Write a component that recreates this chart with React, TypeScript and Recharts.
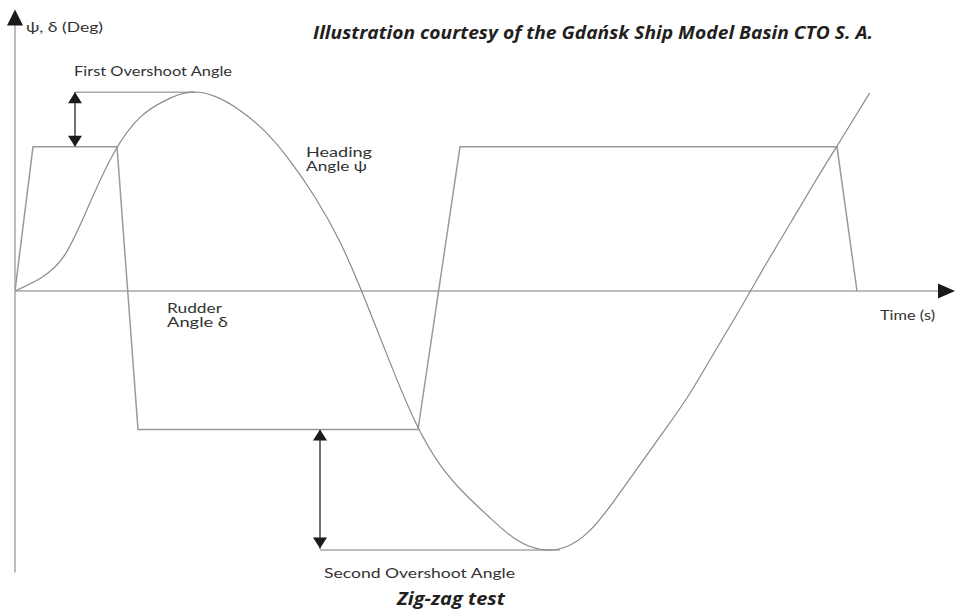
import { LineChart, Line, XAxis, YAxis, ReferenceLine, ReferenceDot } from "recharts";

// time in s, angles in deg
const rudderTime = [0, 1.8, 10.2, 12.3, 40.3, 44.5, 82.2, 84.2];
const rudderAngle = [0, 10.3, 10.3, -9.9, -9.9, 10.3, 10.3, 0];

// heading read every 2.5 s along the curve
const headingTime = [
  0, 2.5, 5, 7.5, 10, 12.5, 15, 17.5, 20, 22.5, 25, 27.5, 30, 32.5, 35, 37.5, 40, 42.5,
  45, 47.5, 50, 52.5, 55, 57.5, 60, 62.5, 65, 67.5, 70, 72.5, 75, 77.5, 80, 82.5, 85, 85.4,
];
const headingAngle = [
  0, 0.9, 2.6, 6.3, 10.0, 12.4, 13.6, 14.2, 13.9, 12.9, 11.4, 9.3, 6.7, 3.5, -0.6, -5.1, -9.3, -12.4,
  -14.5, -16.2, -17.7, -18.45, -18.3, -17.1, -14.9, -12.4, -9.9, -7.3, -4.3, -1.3, 1.8, 4.8, 7.8, 10.7, 13.6, 14.1,
];

// overshoot markers: [arrow time, rudder level, extreme level, end of guide line]
const firstOvershoot = [6.0, 10.3, 14.2, 18.0];
const secondOvershoot = [30.5, -9.9, -18.4, 54.5];

const timeDomain = [0, 94];
const angleDomain = [-20.5, 20.5];

const rudderData = rudderTime.map((t, i) => ({ t, v: rudderAngle[i] }));
const headingData = headingTime.map((t, i) => ({ t, v: headingAngle[i] }));

const axisColor = "#bdbdbd";
const lineColor = "#8a8a8a";
const labelFont = "Lato, 'DejaVu Sans', sans-serif";
const titleFont = "'Open Sans', 'Noto Sans', sans-serif";

type Dir = "up" | "down" | "right";

const arrowHead = (dir: Dir, w: number, h: number, fill: string) => (p: any) => {
  const { cx, cy } = p;
  let d = "";
  if (dir === "up") d = `M${cx},${cy} L${cx - w / 2},${cy + h} L${cx + w / 2},${cy + h} Z`;
  if (dir === "down") d = `M${cx},${cy} L${cx - w / 2},${cy - h} L${cx + w / 2},${cy - h} Z`;
  if (dir === "right") d = `M${cx},${cy} L${cx - h},${cy - w / 2} L${cx - h},${cy + w / 2} Z`;
  return <path d={d} fill={fill} />;
};

export default function App() {
  const [t1, r1, e1, end1] = firstOvershoot;
  const [t2, r2, e2, end2] = secondOvershoot;
  return (
    <div style={{ position: "absolute", left: 0, top: 0, width: 955, height: 610, background: "#fff" }}>
      <LineChart width={955} height={610} margin={{ top: 4, right: 0, left: 15, bottom: 32 }}>
        <XAxis type="number" dataKey="t" domain={timeDomain} hide allowDataOverflow />
        <YAxis type="number" dataKey="v" domain={angleDomain} hide allowDataOverflow />

        {/* axes drawn through the origin */}
        <ReferenceLine segment={[{ x: 0, y: -20.1 }, { x: 0, y: 19 }]} stroke={axisColor} strokeWidth={2} />
        <ReferenceLine segment={[{ x: 0, y: 0 }, { x: 92.4, y: 0 }]} stroke={axisColor} strokeWidth={2} />
        <ReferenceDot x={0} y={20.1} r={1} shape={arrowHead("up", 16, 16, "#1a1a1a")} />
        <ReferenceDot x={94} y={0} r={1} shape={arrowHead("right", 15, 17, "#1a1a1a")} />

        {/* overshoot guides */}
        <ReferenceLine segment={[{ x: t1, y: e1 }, { x: end1, y: e1 }]} stroke="#a8a8a8" strokeWidth={1.5} />
        <ReferenceLine segment={[{ x: t1, y: r1 }, { x: t1, y: e1 }]} stroke="#444" strokeWidth={1.5} />
        <ReferenceDot x={t1} y={e1} r={1} shape={arrowHead("up", 14, 11, "#1a1a1a")} />
        <ReferenceDot x={t1} y={r1} r={1} shape={arrowHead("down", 14, 11, "#1a1a1a")} />

        <ReferenceLine segment={[{ x: t2, y: -18.5 }, { x: end2, y: -18.5 }]} stroke="#a8a8a8" strokeWidth={1.5} />
        <ReferenceLine segment={[{ x: t2, y: r2 }, { x: t2, y: e2 }]} stroke="#444" strokeWidth={1.5} />
        <ReferenceDot x={t2} y={r2} r={1} shape={arrowHead("up", 14, 11, "#1a1a1a")} />
        <ReferenceDot x={t2} y={e2} r={1} shape={arrowHead("down", 14, 11, "#1a1a1a")} />

        <Line
          data={rudderData}
          dataKey="v"
          type="linear"
          stroke="#9a9a9a"
          strokeWidth={1.5}
          dot={false}
          activeDot={false}
          isAnimationActive={false}
        />
        <Line
          data={headingData}
          dataKey="v"
          type="natural"
          stroke={lineColor}
          strokeWidth={1.2}
          dot={false}
          activeDot={false}
          isAnimationActive={false}
        />
      </LineChart>

      <svg
        width={955}
        height={610}
        style={{ position: "absolute", left: 0, top: 0, pointerEvents: "none" }}
      >
        <g fontFamily={titleFont} fontWeight={700} fontStyle="italic" fill="#231f20">
          <text x={313} y={39} fontSize={18} textLength={560} lengthAdjust="spacingAndGlyphs">
            Illustration courtesy of the Gdańsk Ship Model Basin CTO S. A.
          </text>
          <text x={397} y={605} fontSize={18} textLength={108} lengthAdjust="spacingAndGlyphs">
            Zig-zag test
          </text>
        </g>
        <g fontFamily={labelFont} fill="#333" fontSize={14}>
          <text x={26} y={32} fontSize={13} textLength={77} lengthAdjust="spacingAndGlyphs">
            ψ, δ  (Deg)
          </text>
          <text x={74} y={76} textLength={158} lengthAdjust="spacingAndGlyphs">
            First Overshoot Angle
          </text>
          <text x={306} y={157} fontSize={12.5} textLength={66} lengthAdjust="spacingAndGlyphs">
            Heading
          </text>
          <text x={306} y={171} fontSize={12.5} textLength={61} lengthAdjust="spacingAndGlyphs">
            Angle  ψ
          </text>
          <text x={167} y={313} fontSize={12.5} textLength={55} lengthAdjust="spacingAndGlyphs">
            Rudder
          </text>
          <text x={167} y={327} fontSize={12.5} textLength={61} lengthAdjust="spacingAndGlyphs">
            Angle  δ
          </text>
          <text x={880} y={320} fontSize={13} textLength={55} lengthAdjust="spacingAndGlyphs">
            Time (s)
          </text>
          <text x={324} y={578} textLength={191} lengthAdjust="spacingAndGlyphs">
            Second Overshoot Angle
          </text>
        </g>
      </svg>
    </div>
  );
}
